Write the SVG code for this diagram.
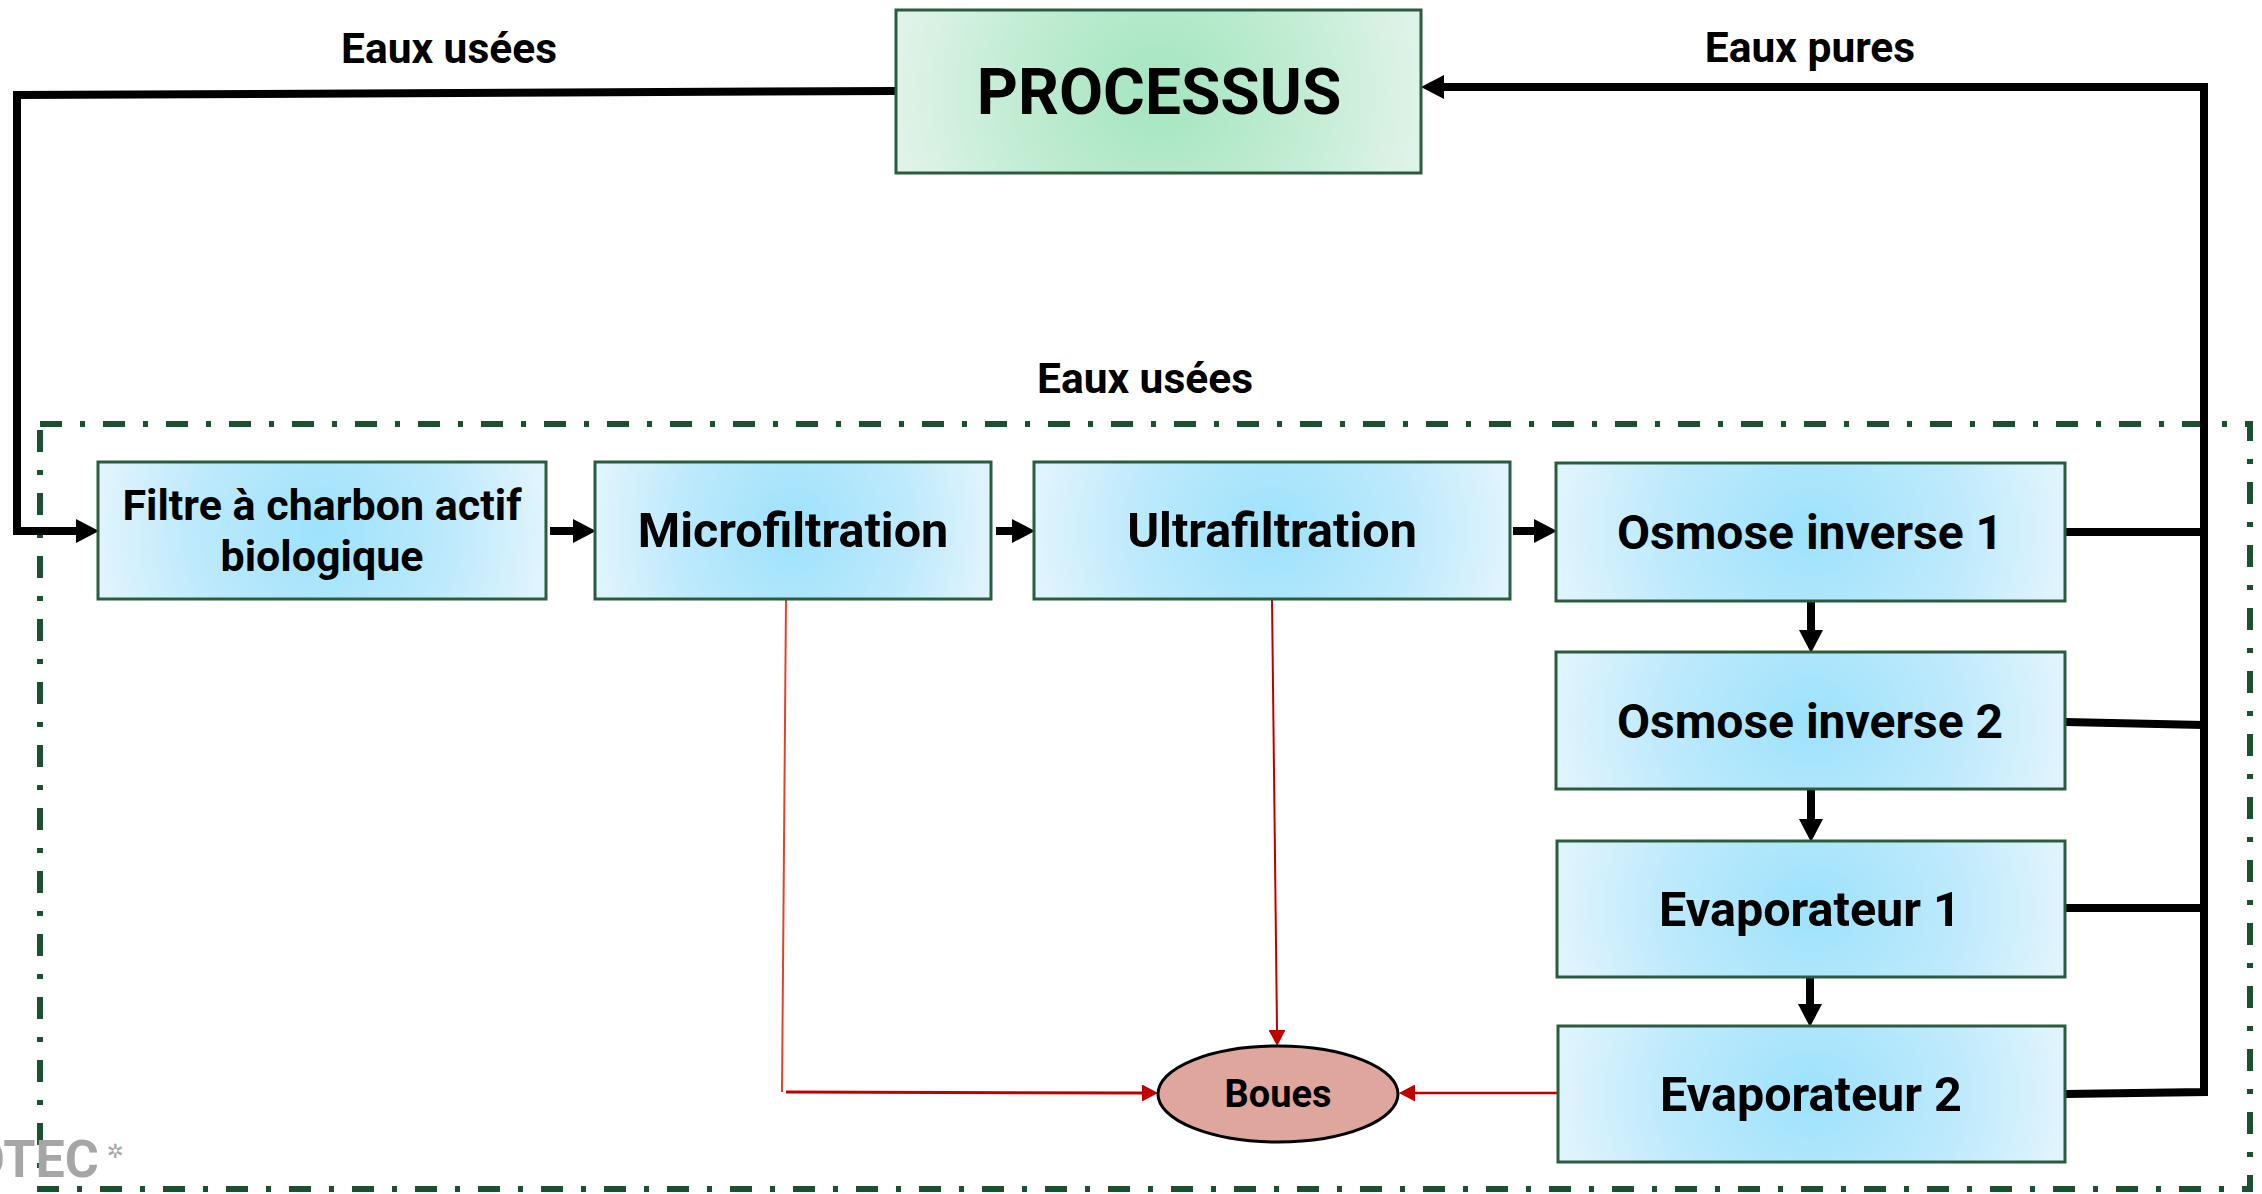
<svg xmlns="http://www.w3.org/2000/svg" width="2262" height="1194" viewBox="0 0 2262 1194">
<style>
.box{stroke:#2a5c3f;stroke-width:3}
.t{font-family:Roboto,"Liberation Sans",sans-serif;font-weight:700;fill:#000;text-anchor:middle}
.bk{fill:none;stroke:#000;stroke-width:8;stroke-linejoin:miter}
.rd{fill:none;stroke:#c00000}
</style>
<defs>
<radialGradient id="gb" cx="0.5" cy="0.5" r="0.5" gradientTransform="translate(0.5,0.5) scale(1,3.3) translate(-0.5,-0.5)">
<stop offset="0" stop-color="#9de2fc"/>
<stop offset="0.6" stop-color="#bfeafc"/>
<stop offset="1" stop-color="#e0f4fd"/>
</radialGradient>
<radialGradient id="gg" cx="0.5" cy="0.5" r="0.5" gradientTransform="translate(0.5,0.5) scale(1,3.2) translate(-0.5,-0.5)">
<stop offset="0" stop-color="#a3e5bf"/>
<stop offset="0.6" stop-color="#c4edd5"/>
<stop offset="1" stop-color="#e0f3e8"/>
</radialGradient>
<marker id="ah" markerUnits="userSpaceOnUse" markerWidth="24" markerHeight="24" viewBox="0 0 24 24" refX="0" refY="12" orient="auto">
<path d="M0,0 L23,12 L0,24 z" fill="#000"/>
</marker>
<marker id="ar" markerUnits="userSpaceOnUse" markerWidth="17" markerHeight="17" viewBox="0 0 17 17" refX="0" refY="8.5" orient="auto">
<path d="M0,0 L16,8.5 L0,17 z" fill="#c00000"/>
</marker>
</defs>
<rect x="0" y="0" width="2262" height="1194" fill="#fff"/>

<rect id="cadre" x="40" y="424" width="2210" height="765" fill="none" stroke="#1b5031" stroke-width="6" stroke-dasharray="22 18 5 18"/>

<g id="labels">
<text class="t" x="449" y="63" font-size="42.5">Eaux usées</text>
<text class="t" x="1810" y="62" font-size="42.5">Eaux pures</text>
<text class="t" x="1145" y="393" font-size="42.5">Eaux usées</text>
</g>

<g id="connectors">
<path class="bk" d="M896 91 L17 95 L17 531 L76 531" marker-end="url(#ah)"/>
<path class="bk" d="M550 531 L573 531" marker-end="url(#ah)"/>
<path class="bk" d="M996 531 L1012 531" marker-end="url(#ah)"/>
<path class="bk" d="M1513 531 L1534 531" marker-end="url(#ah)"/>
<path class="bk" d="M1811 601 L1811 630" marker-end="url(#ah)"/>
<path class="bk" d="M1811 789 L1811 819" marker-end="url(#ah)"/>
<path class="bk" d="M1810 977 L1810 1004" marker-end="url(#ah)"/>
<path class="bk" d="M2065 532 L2204 532"/>
<path class="bk" d="M2065 722 L2204 725"/>
<path class="bk" d="M2065 908 L2204 908"/>
<path class="bk" d="M2065 1094 L2204 1092 L2204 87 L1444 87" marker-end="url(#ah)"/>
<path d="M786 599 L782 1092" fill="none" stroke="#e0452a" stroke-width="2"/>
<path class="rd" stroke-width="3" d="M786 1092 L1142 1093" marker-end="url(#ar)"/>
<path class="rd" stroke-width="2" d="M1272 599 L1277 1030" marker-end="url(#ar)"/>
<path class="rd" stroke-width="2.5" d="M1558 1093 L1415 1093" marker-end="url(#ar)"/>
</g>

<g id="processus">
<rect class="box" x="896" y="10" width="525" height="163" fill="url(#gg)"/>
<text class="t" x="1159" y="114" font-size="64">PROCESSUS</text>
</g>
<g id="filtre">
<rect class="box" x="98" y="462" width="448" height="137" fill="url(#gb)"/>
<text class="t" x="322" y="520" font-size="43">Filtre à charbon actif</text>
<text class="t" x="322" y="571" font-size="43">biologique</text>
</g>
<g id="microfiltration">
<rect class="box" x="595" y="462" width="396" height="137" fill="url(#gb)"/>
<text class="t" x="793" y="547" font-size="48.5">Microfiltration</text>
</g>
<g id="ultrafiltration">
<rect class="box" x="1034" y="462" width="476" height="137" fill="url(#gb)"/>
<text class="t" x="1272" y="547" font-size="48.5">Ultrafiltration</text>
</g>
<g id="osmose1">
<rect class="box" x="1556" y="463" width="509" height="138" fill="url(#gb)"/>
<text class="t" x="1810" y="549" font-size="48">Osmose inverse 1</text>
</g>
<g id="osmose2">
<rect class="box" x="1556" y="652" width="509" height="137" fill="url(#gb)"/>
<text class="t" x="1810" y="738" font-size="48">Osmose inverse 2</text>
</g>
<g id="evaporateur1">
<rect class="box" x="1557" y="841" width="508" height="136" fill="url(#gb)"/>
<text class="t" x="1810" y="926" font-size="48.5">Evaporateur 1</text>
</g>
<g id="evaporateur2">
<rect class="box" x="1558" y="1026" width="507" height="136" fill="url(#gb)"/>
<text class="t" x="1811" y="1111" font-size="48.5">Evaporateur 2</text>
</g>
<g id="boues">
<ellipse cx="1278" cy="1094" rx="120" ry="48" fill="#dea69c" stroke="#000" stroke-width="3"/>
<text class="t" x="1278" y="1107" font-size="38">Boues</text>
</g>

<g id="watermark" fill="#a6a6a6">
<text x="-31" y="1177" font-family="Roboto,'Liberation Sans',sans-serif" font-weight="700" font-size="52">OTEC</text>
<text x="107" y="1158" font-family="'DejaVu Sans',sans-serif" font-size="20">✲</text>
</g>
</svg>
